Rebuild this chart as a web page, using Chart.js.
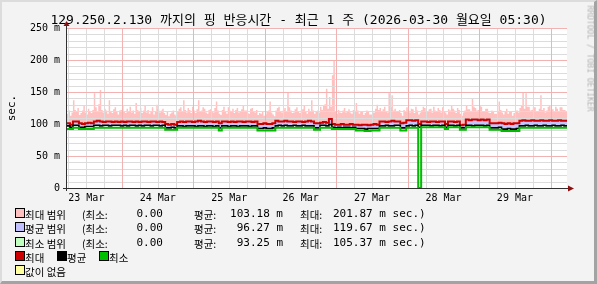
<!DOCTYPE html>
<html>
<head>
<meta charset="utf-8">
<script src="https://cdn.jsdelivr.net/npm/chart.js@4.4.1/dist/chart.umd.min.js"></script>
<style>
  html, body { margin: 0; padding: 0; }
  body {
    width: 597px; height: 284px; overflow: hidden; position: relative;
    background: #f3f3f3;
    font-family: "DejaVu Sans Mono", "Noto Sans CJK KR", monospace;
  }
  #frame {
    position: absolute; left: 0; top: 0; width: 597px; height: 284px; box-sizing: border-box;
    border-top: 2px solid #dcdcdc; border-left: 2px solid #dcdcdc;
    border-right: 3px solid #a3a3a3; border-bottom: 3px solid #a3a3a3;
    pointer-events: none; z-index: 5;
  }
  canvas { position: absolute; left: 0; top: 0; }
  .t { position: absolute; white-space: pre; color: #000; line-height: 12px; }
  .m { font: 11px "DejaVu Sans Mono", monospace; }
  .k { font: 10.5px "Noto Sans CJK KR", sans-serif; }
  .box { position: absolute; width: 8px; height: 8px; border: 1px solid #000; }
  #title {
    position: absolute; left: 0; top: 12px; width: 597px; text-align: center;
    font: 13px "DejaVu Sans Mono", "Noto Sans CJK KR", monospace; line-height: 15px; white-space: pre;
  }
  #ylab {
    position: absolute; left: -10px; top: 102px; width: 44px; text-align: center;
    font: 11px "DejaVu Sans Mono", monospace; line-height: 12px; transform: rotate(-90deg);
  }
  #mark {
    position: absolute; left: 535px; top: 54px; width: 110px; text-align: center;
    font: 8px "DejaVu Sans Mono", monospace; line-height: 9px; color: #b4b4b4;
    transform: rotate(90deg); white-space: pre;
  }
</style>
</head>
<body>
<canvas id="chart" width="597" height="284"></canvas>
<div id="title">129.250.2.130 까지의 핑 반응시간 - 최근 1 주 (2026-03-30 월요일 05:30)</div>
<div id="ylab">sec.</div>
<div id="mark">RRDTOOL / TOBI OETIKER</div>
<div id="legend"></div>
<div id="frame"></div>
<script>
/* ============================================================
   Data (hours counted from 23 Mar 05:30)
============================================================ */
const xLabels = ["23 Mar", "24 Mar", "25 Mar", "26 Mar", "27 Mar", "28 Mar", "29 Mar"];
const xLabelHours = [6.5, 30.5, 54.5, 78.5, 102.5, 126.5, 150.5];
const yTicks = [0, 50, 100, 150, 200, 250];
const yLabels = ["0", "50 m", "100 m", "150 m", "200 m", "250 m"];

// top of the pink "max range" band, one value per half hour
const maxRangeTop = [
  116,121,113,118,137,122,119,125,114,117,121,128,118,115,124,119,117,122,148,126,120,131,153,122,
  118,124,121,116,137,120,117,123,126,119,115,121,122,128,119,117,124,120,127,118,121,116,133,122,
  119,125,117,121,128,118,122,116,120,126,115,119,130,123,118,121,124,117,114,119,112,116,118,121,
  115,113,120,124,126,119,137,122,118,125,122,117,127,121,117,123,137,119,121,126,124,118,116,122,
  123,119,118,125,135,121,116,114,122,127,119,116,126,121,120,124,117,122,125,118,119,123,129,121,
  121,117,116,124,125,119,118,122,114,117,116,119,113,115,119,121,135,118,115,112,121,125,127,119,
  118,122,125,119,150,126,121,117,118,123,126,120,117,121,123,128,120,116,124,119,137,121,116,119,
  121,118,127,122,129,131,155,124,142,127,176,200,119,116,122,118,117,121,125,118,120,123,118,116,
  122,119,133,121,116,119,119,114,117,121,120,115,115,118,118,124,130,122,125,119,123,127,120,118,
  148,126,145,121,124,119,119,122,117,113,122,119,126,121,118,124,123,117,127,121,115,118,122,127,
  125,119,119,123,124,118,127,121,120,125,122,118,126,120,118,115,123,121,129,124,121,117,125,122,
  116,113,118,121,128,123,123,119,140,127,125,121,122,128,127,119,120,124,124,118,117,121,119,116,
  116,119,135,122,118,115,120,124,116,119,119,113,117,121,121,118,125,129,150,124,148,127,127,121,
  122,126,126,119,120,124,145,122,125,118,121,127,128,121,123,119,127,124,120,126,126,122,122,119
];
// red "최대" line, one value per hour
const maxLine = [
  101,99,104,104,101,100,101,102,101,104,105,104,103,104,104,103,104,103,104,103,104,104,103,104,
  103,104,104,103,104,104,103,104,103,100,99,100,99,103,104,103,104,104,103,104,105,104,103,104,
  104,103,104,101,104,104,103,104,103,104,104,103,104,104,103,104,100,100,101,100,100,101,105,104,
  104,105,104,104,103,104,104,103,104,105,104,101,101,102,103,102,108,100,99,99,100,99,99,100,
  99,99,98,99,99,98,99,100,99,104,104,103,104,105,104,104,101,102,106,106,105,106,100,104,
  104,103,104,104,103,104,104,100,104,104,103,104,98,99,107,106,107,107,106,107,106,107,101,101,
  101,102,101,100,101,100,101,101,105,106,105,105,106,105,105,106,105,105,106,105,105,106,105,105
];
// black "평균" line, one value per hour
const avgLine = [
  97,95,98,98,95,95,96,96,96,98,98,97,98,98,97,98,98,98,97,98,97,98,98,97,
  98,97,98,98,97,98,98,97,98,94,94,95,94,97,97,96,97,97,97,96,97,97,96,97,
  97,96,97,94,97,97,96,97,97,96,97,97,97,96,97,97,93,93,94,93,93,94,97,98,
  97,98,97,97,98,97,97,98,97,97,97,94,94,98,98,97,99,95,94,95,94,95,95,94,
  95,93,93,93,92,93,93,93,93,97,97,98,97,97,98,98,94,94,97,98,97,98,95,98,
  98,98,97,98,98,97,98,95,98,98,97,98,94,94,98,98,97,98,98,98,97,98,94,94,
  94,95,92,92,93,92,92,93,97,97,98,97,97,98,97,97,98,97,97,98,97,97,98,97
];
// green "최소" line, one value per hour
const minLine = [
  92,92,94,94,92,92,92,92,92,94,94,94,94,94,94,94,94,94,94,94,94,94,94,94,
  94,94,94,94,94,94,94,94,94,91,91,91,91,94,94,94,94,94,94,94,94,94,94,94,
  94,94,94,90,94,94,94,94,94,94,94,94,94,94,94,94,90,90,90,90,90,90,94,94,
  94,94,94,94,94,94,94,94,94,94,94,91,91,94,94,94,94,92,92,92,92,92,92,92,
  92,90,90,90,89,89,90,90,90,94,94,94,94,94,94,94,90,90,94,94,94,94,0,95,
  95,95,95,95,95,95,95,92,95,95,95,95,91,91,95,95,95,95,95,95,95,95,91,91,
  91,91,89,89,89,89,89,89,94,94,94,94,94,94,94,94,94,94,94,94,94,94,94,94
];

// legend
const rangeNames = ["최대 범위", "평균 범위", "최소 범위"];
const rangeColors = ["#ffc0c0", "#c0c0ff", "#c0ffc0"];
const rangeMins = ["0.00", "0.00", "0.00"];
const rangeAvgs = ["103.18 m", "96.27 m", "93.25 m"];
const rangeMaxs = ["201.87 m", "119.67 m", "105.37 m"];
const lineNames = ["최대", "평균", "최소"];
const lineColors = ["#cc0000", "#000000", "#00c000"];

const HOURS = 168;
const Y_MAX = 250;

/* ============================================================
   Legend (HTML text)
============================================================ */
const legend = document.getElementById("legend");
function put(text, x, y, cls, right) {
  const s = document.createElement("span");
  s.className = "t " + cls;
  s.textContent = text;
  s.style.top = (y - 6) + "px";
  if (right) s.style.right = (597 - x) + "px";
  else s.style.left = x + "px";
  legend.appendChild(s);
}
function box(color, x, y) {
  const b = document.createElement("div");
  b.className = "box";
  b.style.background = color;
  b.style.left = x + "px";
  b.style.top = (y - 5) + "px";
  legend.appendChild(b);
}
rangeNames.forEach((name, i) => {
  const y = 213 + i * 14.4;
  box(rangeColors[i], 15, y);
  put(name, 25, y, "k");
  put("(최소:", 82, y, "k");
  put(rangeMins[i], 163, y, "m", true);
  put("평균:", 194, y, "k");
  put(rangeAvgs[i], 283, y, "m", true);
  put("최대:", 300, y, "k");
  put(rangeMaxs[i] + " sec.)", 333, y, "m");
});
lineNames.forEach((name, i) => {
  const x = 15 + i * 42;
  box(lineColors[i], x, 256);
  put(name, x + 10, 256, "k");
});
box("#ffffa0", 15, 270);
put("값이 없음", 25, 270, "k");

/* ============================================================
   Backdrop, grid and axes (on the chart's own scales)
============================================================ */
const rrdGrid = {
  id: "rrdGrid",
  beforeDatasetsDraw(chart) {
    const { ctx, chartArea: a } = chart;
    ctx.save();
    ctx.fillStyle = "#ffffff";
    ctx.fillRect(a.left, a.top, a.right - a.left, a.bottom - a.top);
    ctx.restore();
  },
  // grid goes over the pink area, under the other fills and lines
  afterDatasetDraw(chart, args) {
    if (args.index !== 0) return;
    const { ctx, chartArea: a, scales: { x, y } } = chart;
    const L = Math.round(a.left), R = Math.round(a.right);
    const T = Math.round(a.top), B = Math.round(a.bottom);
    ctx.save();
    for (const major of [false, true]) {
      ctx.fillStyle = major ? "#f2b2b2" : "#dcdcdc";
      for (let v = 10; v <= Y_MAX; v += 10) {
        if ((v % 50 === 0) !== major) continue;
        ctx.fillRect(L, Math.round(y.getPixelForValue(v)), R - L, 1);
      }
      for (let h = 0.5; h < HOURS; h += 6) {
        if (((h - 18.5) % 24 === 0) !== major) continue;
        ctx.fillRect(Math.round(x.getPixelForValue(h)), T, 1, B - T);
      }
    }
    ctx.restore();
  },
  afterDraw(chart) {
    const { ctx, chartArea: a } = chart;
    ctx.save();
    ctx.strokeStyle = "#303030";
    ctx.lineWidth = 1;
    ctx.beginPath();
    ctx.moveTo(a.left - 0.5, a.bottom + 3);
    ctx.lineTo(a.left - 0.5, a.top - 4);
    ctx.moveTo(a.left - 4, a.bottom + 0.5);
    ctx.lineTo(a.right + 2, a.bottom + 0.5);
    ctx.stroke();
    ctx.fillStyle = "#8c1010";
    ctx.beginPath();
    ctx.moveTo(a.left - 3.5, a.top - 2);
    ctx.lineTo(a.left + 2.5, a.top - 2);
    ctx.lineTo(a.left - 0.5, a.top - 7);
    ctx.closePath();
    ctx.fill();
    ctx.beginPath();
    ctx.moveTo(a.right + 1, a.bottom - 2.5);
    ctx.lineTo(a.right + 1, a.bottom + 3.5);
    ctx.lineTo(a.right + 7, a.bottom + 0.5);
    ctx.closePath();
    ctx.fill();
    ctx.restore();
  },
};

/* ============================================================
   Chart
============================================================ */
const toPts = (arr, step) =>
  arr.map((v, i) => ({ x: i * step, y: v }))
     .concat([{ x: arr.length * step, y: arr[arr.length - 1] }]);

const tickFont = { family: "DejaVu Sans Mono", size: 10 };

new Chart(document.getElementById("chart"), {
  type: "line",
  data: {
    datasets: [
      {
        label: "최대 범위",
        data: toPts(maxRangeTop, 0.5),
        borderWidth: 0,
        backgroundColor: "#ffc0c0",
        fill: 1,
        stepped: true,
        order: 4,
      },
      {
        label: "최대",
        data: toPts(maxLine, 1),
        borderColor: "#cc0000",
        borderWidth: 2,
        backgroundColor: "#c4c4ff",
        fill: 2,
        stepped: true,
        order: 3,
      },
      {
        label: "평균",
        data: toPts(avgLine, 1),
        borderColor: "#000000",
        borderWidth: 1.6,
        fill: false,
        stepped: true,
        order: 2,
      },
      {
        label: "최소",
        data: toPts(minLine, 1),
        borderColor: "#00bb00",
        borderWidth: 2,
        fill: false,
        stepped: true,
        order: 1,
      },
    ],
  },
  options: {
    responsive: false,
    animation: false,
    events: [],
    layout: { padding: { left: 0, top: 28, right: 30, bottom: 76 } },
    elements: { point: { radius: 0 }, line: { tension: 0 } },
    plugins: { legend: { display: false }, tooltip: { enabled: false } },
    scales: {
      x: {
        type: "linear",
        min: 0,
        max: HOURS,
        grid: { display: false, drawTicks: false },
        border: { display: false },
        afterBuildTicks: (axis) => {
          axis.ticks = xLabelHours.map((v) => ({ value: v }));
        },
        afterFit: (axis) => { axis.height = 20; },
        ticks: {
          font: tickFont,
          color: "#000",
          padding: 4,
          maxRotation: 0,
          autoSkip: false,
          callback: (v) => xLabels[xLabelHours.indexOf(v)] || "",
        },
      },
      y: {
        min: 0,
        max: Y_MAX,
        grid: { display: false, drawTicks: false },
        border: { display: false },
        afterBuildTicks: (axis) => {
          axis.ticks = yTicks.map((v) => ({ value: v }));
        },
        afterFit: (axis) => { axis.width = 67; },
        ticks: {
          font: tickFont,
          color: "#000",
          padding: 7,
          autoSkip: false,
          callback: (v) => yLabels[yTicks.indexOf(v)],
        },
      },
    },
  },
  plugins: [rrdGrid],
});
</script>
</body>
</html>
